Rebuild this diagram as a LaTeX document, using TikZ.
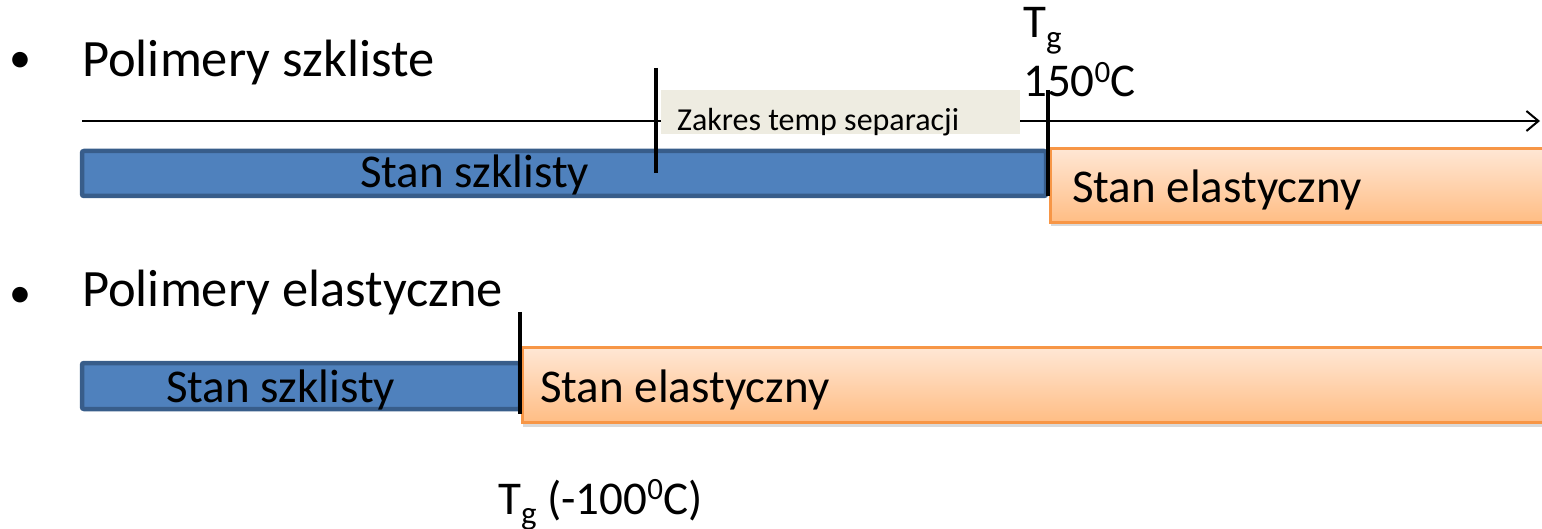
\documentclass[tikz,border=0pt]{standalone}
\usepackage{fontspec}
\setmainfont{Carlito}
\usetikzlibrary{arrows.meta,shadows}
\definecolor{glassfill}{HTML}{4F81BD}
\definecolor{glassline}{HTML}{385D8A}
\definecolor{rubberline}{HTML}{F79646}
\definecolor{rubbertop}{HTML}{FFE7D5}
\definecolor{rubberbot}{HTML}{FFBD84}
\definecolor{rangefill}{HTML}{EEECE1}
% raised degree-style zero, top aligned with the digits
\newcommand\supzero{\raisebox{0.30em}{\fontsize{31}{36}\selectfont 0}}
\newcommand\subg{\raisebox{-0.22em}{\fontsize{33}{36}\selectfont g}}
\tikzset{
  title/.style={anchor=base west, inner sep=0pt, font=\fontsize{52.5}{60}\selectfont},
  bulletmark/.style={anchor=base, inner sep=0pt, font=\fontsize{44}{50}\selectfont},
  statelabel/.style={anchor=base west, inner sep=0pt, font=\fontsize{47}{54}\selectfont},
  templabel/.style={anchor=base west, inner sep=0pt, font=\fontsize{47}{54}\selectfont},
  rangelabel/.style={anchor=base west, inner sep=0pt, font=\fontsize{32}{38}\selectfont},
  glassbar/.style={draw=glassline, line width=4.5pt, fill=glassfill, rounded corners=2pt},
  rubberbar/.style={draw=rubberline, line width=3pt, top color=rubbertop, bottom color=rubberbot,
    drop shadow={shadow xshift=0pt, shadow yshift=-4pt, opacity=0.25, fill=black!60}},
  rangebox/.style={fill=rangefill},
  tick/.style={line width=4.5pt, black},
  axisline/.style={line width=2pt, -{Straight Barb[length=12pt, width=20pt, line width=2pt]}},
}
\begin{document}
\begin{tikzpicture}[x=1pt, y=-1pt]
\useasboundingbox (0,0) rectangle (1542,529);

% temperature axis
\coordinate (axstart) at (82,121);
\coordinate (axend) at (1540,121);
\draw[axisline] (axstart) -- (axend);

% separation range band
\path[rangebox] (661,90) rectangle (1020,134);
\node[rangelabel] (range) at (677,131) {Zakres temp separacji};

% glassy polymers
\node[bulletmark] (b1) at (20,73) {•};
\node[title] (t1) at (82,77) {Polimery szkliste};
\draw[glassbar] (82,151) rectangle (1046,196);
\node[statelabel] (g1) at (360,188) {Stan szklisty};
\draw[rubberbar] (1050.5,148.5) rectangle (1550,222.5);
\node[statelabel] (r1) at (1072,203) {Stan elastyczny};

\coordinate (s1top) at (656,68);
\coordinate (s1bot) at (656,173);
\draw[tick] (s1top) -- (s1bot);
\coordinate (tg1top) at (1048,90);
\coordinate (tg1bot) at (1048,196);
\draw[tick] (tg1top) -- (tg1bot);
\node[templabel] (tg1) at (1023,38) {T\subg};
\node[templabel] (tg1v) at (1023,97) {150\supzero C};

% elastic polymers
\node[bulletmark] (b2) at (20,308) {•};
\node[title] (t2) at (82,306) {Polimery elastyczne};
\draw[glassbar] (82,363) rectangle (520,409);
\node[statelabel] (g2) at (166,402) {Stan szklisty};
\draw[rubberbar] (522.5,347.5) rectangle (1550,422.5);
\node[statelabel] (r2) at (540,402) {Stan elastyczny};

\coordinate (tg2top) at (520,312);
\coordinate (tg2bot) at (520,414);
\draw[tick] (tg2top) -- (tg2bot);
\node[templabel] (tg2) at (498,514) {T\subg{} (-100\supzero C)};
\end{tikzpicture}
\end{document}
